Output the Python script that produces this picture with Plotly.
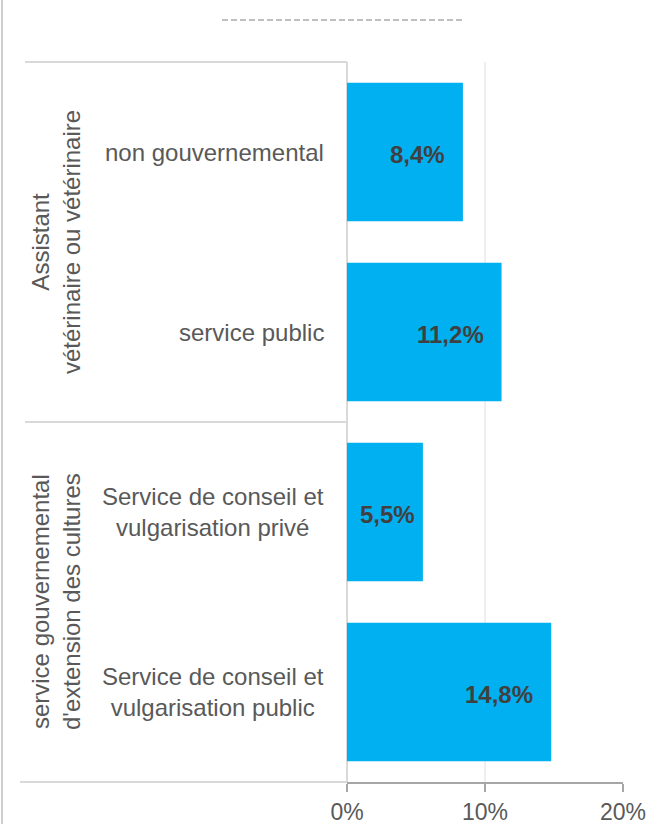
import plotly.graph_objects as go

# ---- data ----
categories = [
    "non gouvernemental",
    "service public",
    "Service de conseil et<br>vulgarisation privé",
    "Service de conseil et<br>vulgarisation public",
]
values = [8.4, 11.2, 5.5, 14.8]
value_labels = ["8,4%", "11,2%", "5,5%", "14,8%"]
groups = [
    "Assistant<br>vétérinaire ou vétérinaire",
    "service gouvernemental<br>d'extension des cultures",
]
group_positions = [0.5, 2.5]  # between category indices
tick_values = [0, 10, 20]
tick_labels = ["0%", "10%", "20%"]

# ---- layout geometry (pixels) ----
W, H = 649, 824
L, R, T, B = 347, 26, 62, 42
PW = W - L - R
PH = H - T - B


def px_x(px):
    return (px - L) / PW


def px_y(py):
    return (H - B - py) / PH


FONT = "Liberation Sans, Arial, sans-serif"
GREY_TXT = "#595959"
BAR = "#00B0F0"

fig = go.Figure()
fig.add_trace(
    go.Bar(
        x=values,
        y=list(range(len(categories))),
        orientation="h",
        marker=dict(color=BAR, line=dict(width=0)),
        hoverinfo="skip",
    )
)

annotations = []
label_shift = [-16, -16, -6, -16]
for i, (v, t) in enumerate(zip(values, value_labels)):
    annotations.append(
        dict(
            x=v, y=i, xref="x", yref="y", text=f"<b>{t}</b>",
            showarrow=False, xanchor="right", yanchor="middle",
            xshift=label_shift[i], yshift=-2,
            font=dict(family=FONT, size=24, color="#404040"),
        )
    )
for i, c in enumerate(categories):
    annotations.append(
        dict(
            x=0, y=i, xref="paper", yref="y", text=c, showarrow=False,
            xanchor="right", yanchor="middle", align="center", xshift=-21,
            font=dict(family=FONT, size=24, color=GREY_TXT),
        )
    )
for g, gp in zip(groups, group_positions):
    annotations.append(
        dict(
            x=px_x(56), y=gp, xref="paper", yref="y", text=g, showarrow=False,
            xanchor="center", yanchor="middle", align="center", textangle=-90,
            font=dict(family=FONT, size=24, color=GREY_TXT),
        )
    )

LINE = "#d9d9d9"
shapes = [
    # left page border
    dict(type="line", xref="paper", yref="paper", x0=px_x(2), x1=px_x(2),
         y0=px_y(H), y1=px_y(0), line=dict(color="#bfbfbf", width=1.5)),
    # dashed line at top
    dict(type="line", xref="paper", yref="paper", x0=px_x(222), x1=px_x(465),
         y0=px_y(20), y1=px_y(20), line=dict(color="#bfbfbf", width=2, dash="6px,3px")),
    # category box lines
    dict(type="line", xref="paper", yref="paper", x0=px_x(25), x1=px_x(347),
         y0=px_y(62), y1=px_y(62), line=dict(color=LINE, width=2)),
    dict(type="line", xref="paper", yref="paper", x0=px_x(25), x1=px_x(347),
         y0=px_y(422), y1=px_y(422), line=dict(color=LINE, width=2)),
    dict(type="line", xref="paper", yref="paper", x0=px_x(20), x1=px_x(347),
         y0=px_y(782), y1=px_y(782), line=dict(color=LINE, width=2)),
]

fig.update_layout(
    width=W, height=H, autosize=False,
    margin=dict(l=L, r=R, t=T, b=B, pad=0),
    paper_bgcolor="white", plot_bgcolor="white",
    showlegend=False, bargap=0.23,
    annotations=annotations, shapes=shapes,
    xaxis=dict(
        range=[0, 20], tickvals=tick_values, ticktext=tick_labels,
        showgrid=True, gridcolor="#efefef", gridwidth=2,
        zeroline=True, zerolinecolor=LINE, zerolinewidth=2,
        showline=True, linecolor="#a6a6a6", linewidth=2,
        ticks="outside", ticklen=8, tickwidth=2, tickcolor="#a6a6a6",
        tickfont=dict(family=FONT, size=23, color=GREY_TXT),
        fixedrange=True, automargin=False,
    ),
    yaxis=dict(
        range=[3.5, -0.5], showticklabels=False, showgrid=False,
        zeroline=False, showline=False, ticks="", fixedrange=True,
        automargin=False,
    ),
)

post = (
    "document.body.style.margin='0';"
    "document.body.style.padding='0';"
    "document.documentElement.style.overflow='hidden';"
    "document.body.style.overflow='hidden';"
)

fig.write_html(
    "out.html",
    config={"responsive": False, "displayModeBar": False, "staticPlot": True},
    post_script=post,
)
